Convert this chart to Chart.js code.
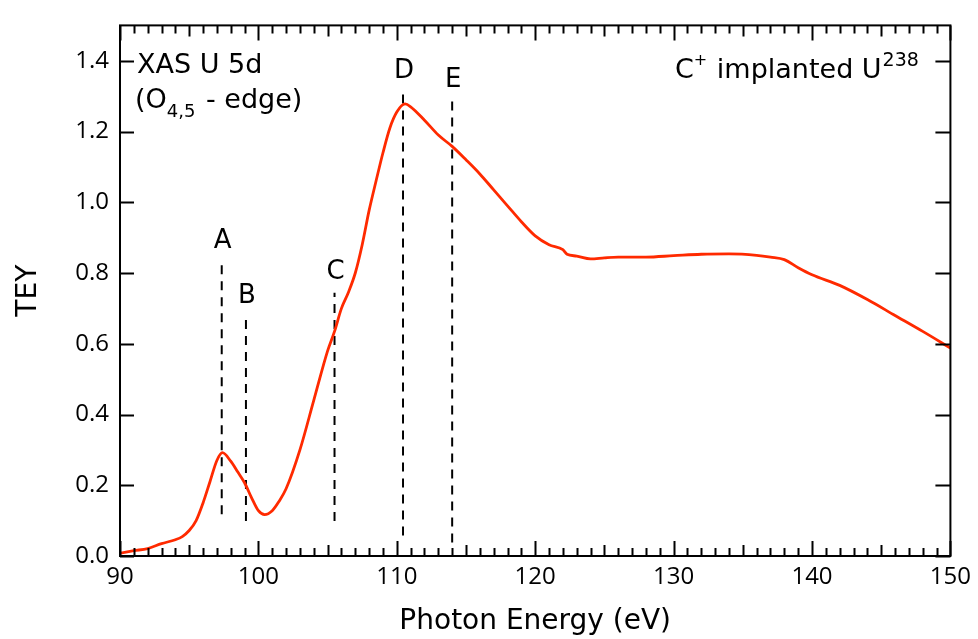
<!DOCTYPE html>
<html>
<head>
<meta charset="utf-8">
<script src="https://cdn.jsdelivr.net/npm/chart.js@4"></script>
<style>
  html, body { margin: 0; padding: 0; background: #fff; }
  #wrap { width: 978px; height: 639px; }
</style>
</head>
<body>
<div id="wrap"><canvas id="ctx"></canvas></div>
<script>
const energy = [90, 91, 92, 93, 94, 94.5, 95, 95.5, 96, 96.5, 97, 97.4, 98, 98.5, 99, 99.5, 100, 100.45,
  101, 101.5, 102, 103, 104, 105, 105.5, 106, 106.5, 107, 107.5, 108, 108.5, 109, 109.5, 110, 110.6,
  111, 112, 113, 114, 115, 116, 117, 118, 119, 120, 121, 122, 122.3, 123, 124, 125, 126, 128, 130,
  132, 134, 136, 137, 138, 139, 140, 142, 144, 146, 148, 150];
const tey = [0.008, 0.015, 0.021, 0.035, 0.046, 0.055, 0.072, 0.1, 0.15, 0.21, 0.27, 0.292, 0.268, 0.238,
  0.207, 0.165, 0.128, 0.117, 0.128, 0.155, 0.19, 0.3, 0.44, 0.58, 0.635, 0.7, 0.745, 0.8, 0.88, 0.977,
  1.06, 1.14, 1.21, 1.255, 1.278, 1.27, 1.232, 1.19, 1.158, 1.12, 1.08, 1.035, 0.99, 0.945, 0.905, 0.88,
  0.866, 0.853, 0.848, 0.84, 0.843, 0.845, 0.845, 0.849, 0.853, 0.854, 0.85, 0.845, 0.838, 0.815, 0.795,
  0.765, 0.725, 0.68, 0.635, 0.588];

// peak markers: label, energy, dashed line top / bottom
const markLabels = ["A", "B", "C", "D", "E"];
const markEnergy = [97.35, 99.1, 105.5, 110.45, 114.0];
const markTop = [0.832, 0.675, 0.744, 1.312, 1.287];
const markBottom = [0.118, 0.099, 0.099, 0.058, 0.038];

const FONT = "'DejaVu Sans', sans-serif";
const TICKFONT = "'Open Sans', 'DejaVu Sans', sans-serif";

const markerSets = markLabels.map((lab, i) => ({
  label: lab,
  data: [{ x: markEnergy[i], y: markBottom[i] }, { x: markEnergy[i], y: markTop[i] }],
  borderColor: "#000",
  borderWidth: 2,
  borderDash: [9, 7],
  pointRadius: 0,
  showLine: true,
}));

// frame, inside ticks and text labels
const decorations = {
  id: "decorations",
  afterDraw(chart) {
    const { ctx, chartArea: a, scales } = chart;
    const xs = scales.x, ys = scales.y;
    ctx.save();
    ctx.strokeStyle = "#000";
    ctx.lineWidth = 2;
    ctx.strokeRect(a.left, a.top, a.right - a.left, a.bottom - a.top);

    ctx.beginPath();
    for (let v = 90; v <= 150; v++) {
      const px = Math.round(xs.getPixelForValue(v)) + 0.5;
      const len = v % 10 === 0 ? 15 : v % 5 === 0 ? 11 : 8;
      ctx.moveTo(px, a.bottom); ctx.lineTo(px, a.bottom - len);
      ctx.moveTo(px, a.top); ctx.lineTo(px, a.top + len);
    }
    ys.ticks.forEach(t => {
      const py = Math.round(ys.getPixelForValue(t.value)) + 0.5;
      ctx.moveTo(a.left, py); ctx.lineTo(a.left + 14, py);
      ctx.moveTo(a.right, py); ctx.lineTo(a.right - 15, py);
    });
    ctx.stroke();

    ctx.fillStyle = "#000";
    ctx.textAlign = "center";
    ctx.textBaseline = "alphabetic";
    ctx.font = "26px " + FONT;
    markLabels.forEach((lab, i) => {
      const px = xs.getPixelForValue(markEnergy[i]);
      const py = ys.getPixelForValue(markTop[i]);
      ctx.fillText(lab, px + 1, py - 14);
    });

    ctx.textAlign = "left";
    ctx.font = "27px " + FONT;
    ctx.fillText("XAS U 5d", a.left + 17, a.top + 48);
    let x = a.left + 15;
    const y2 = a.top + 83;
    ctx.fillText("(O", x, y2);
    x += ctx.measureText("(O").width;
    ctx.font = "18px " + FONT;
    ctx.fillText("4,5", x, y2 + 9);
    x += ctx.measureText("4,5").width + 2;
    ctx.font = "27px " + FONT;
    ctx.fillText(" - edge)", x, y2);

    x = a.left + 555;
    const y3 = a.top + 53;
    ctx.fillText("C", x, y3);
    x += ctx.measureText("C").width;
    ctx.font = "16px " + FONT;
    ctx.fillText("+", x, y3 - 13);
    x += ctx.measureText("+").width + 1;
    ctx.font = "27px " + FONT;
    ctx.fillText(" implanted U", x, y3);
    x += ctx.measureText(" implanted U").width + 1;
    ctx.font = "19px " + FONT;
    ctx.fillText("238", x, y3 - 12);
    ctx.restore();
  },
};

new Chart(document.getElementById("ctx"), {
  type: "scatter",
  data: {
    datasets: [
      {
        label: "TEY",
        data: energy.map((e, i) => ({ x: e, y: tey[i] })),
        borderColor: "#ff2a00",
        borderWidth: 2.8,
        pointRadius: 0,
        showLine: true,
        cubicInterpolationMode: "monotone",
      },
      ...markerSets,
    ],
  },
  options: {
    responsive: true,
    maintainAspectRatio: false,
    animation: false,
    layout: { padding: { top: 9, right: 25, left: 0, bottom: 0 } },
    plugins: { legend: { display: false }, tooltip: { enabled: false } },
    scales: {
      x: {
        type: "linear",
        min: 90,
        max: 150,
        afterFit: (s) => { s.height = 83; },
        grid: { display: false, drawTicks: false },
        border: { display: false },
        ticks: { stepSize: 10, padding: 7, color: "#000", font: { family: TICKFONT, size: 24 } },
        title: {
          display: true,
          text: "Photon Energy (eV)",
          color: "#000",
          font: { family: FONT, size: 28, lineHeight: 1.1 },
          padding: { top: 0, bottom: 2 },
        },
      },
      y: {
        min: 0,
        max: 1.5,
        afterFit: (s) => { s.width = 120; },
        grid: { display: false, drawTicks: false },
        border: { display: false },
        ticks: {
          stepSize: 0.2,
          includeBounds: false,
          padding: 11,
          color: "#000",
          font: { family: TICKFONT, size: 24 },
          callback: (v) => v.toFixed(1),
        },
        title: {
          display: true,
          text: "TEY",
          color: "#000",
          font: { family: FONT, size: 28 },
          padding: { top: 12, bottom: 0 },
        },
      },
    },
  },
  plugins: [decorations],
});
</script>
</body>
</html>
